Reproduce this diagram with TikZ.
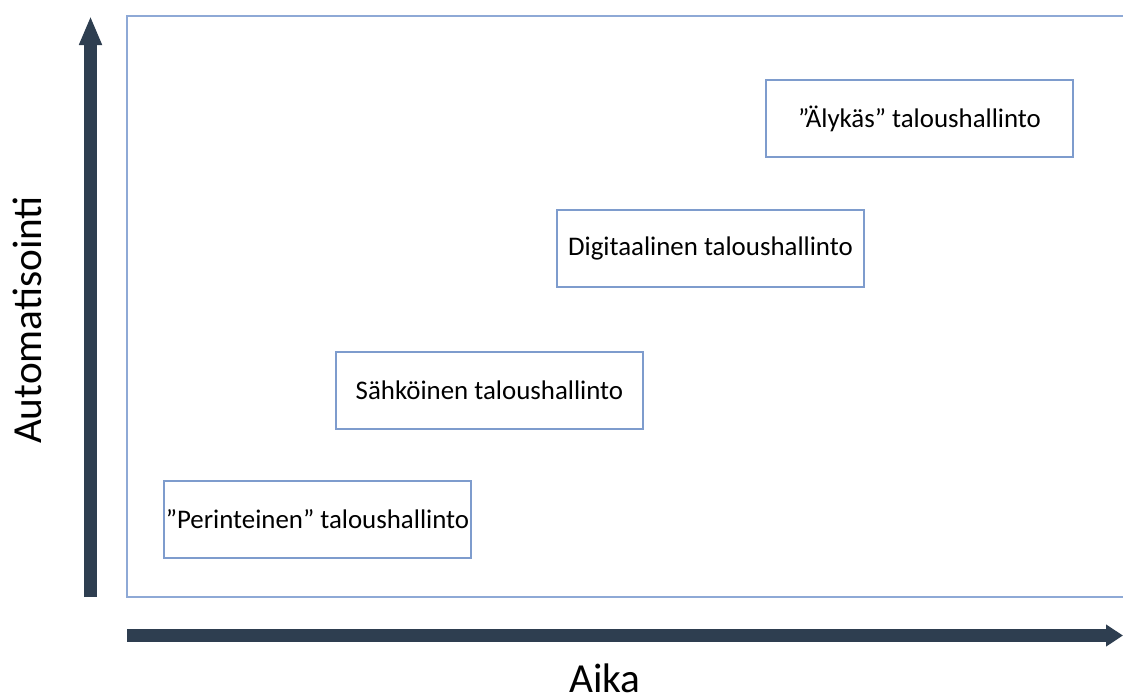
\documentclass[tikz,border=0pt]{standalone}
\usepackage{fontspec}
\setmainfont{Carlito}
\usetikzlibrary{arrows.meta}
\definecolor{axisdark}{HTML}{2E3E50}
\definecolor{frameblue}{HTML}{8EA9D6}
\definecolor{boxblue}{HTML}{7E9CCD}

\begin{document}
\begin{tikzpicture}[
  x=0.02cm,y=-0.02cm,
  stage/.style={draw=boxblue,line width=0.75pt,fill=white,minimum width=6.14cm,minimum height=1.54cm,inner sep=0pt,font=\fontsize{15.3}{18}\selectfont},
  frame/.style={draw=frameblue,line width=1.1pt},
  axis/.style={draw=axisdark,line width=0.26cm},
  axislabel/.style={font=\fontsize{23.5}{28}\selectfont,anchor=base,inner sep=0pt}]

  \useasboundingbox (0,0) rectangle (1123,698);

  % open frame of the chart area
  \draw[frame] (1123,16) -- (127,16) -- (127,597) -- (1123,597);

  % the four stages
  \node[stage] (perinteinen) at (317.5,519.5) {”Perinteinen” taloushallinto};
  \node[stage] (sahkoinen) at (489.5,390.5) {Sähköinen taloushallinto};
  \node[stage] (digitaalinen) at (710.5,248.5) {Digitaalinen taloushallinto};
  \node[stage] (alykas) at (919.5,118.5) {”Älykäs” taloushallinto};

  % axes
  \coordinate (yfoot) at (90.5,597);
  \coordinate (ytip) at (90.5,16);
  \coordinate (xfoot) at (127,635.5);
  \coordinate (xtip) at (1123,635.5);
  \draw[axis,-{Triangle[length=0.58cm,width=0.42cm]}] (yfoot) -- (ytip);
  \draw[axis,-{Triangle[length=0.34cm,width=0.42cm]}] (xfoot) -- (xtip);

  \node[axislabel,rotate=90] (automatisointi) at (41,320) {Automatisointi};
  \node[axislabel] (aika) at (605,692) {Aika};

\end{tikzpicture}
\end{document}
